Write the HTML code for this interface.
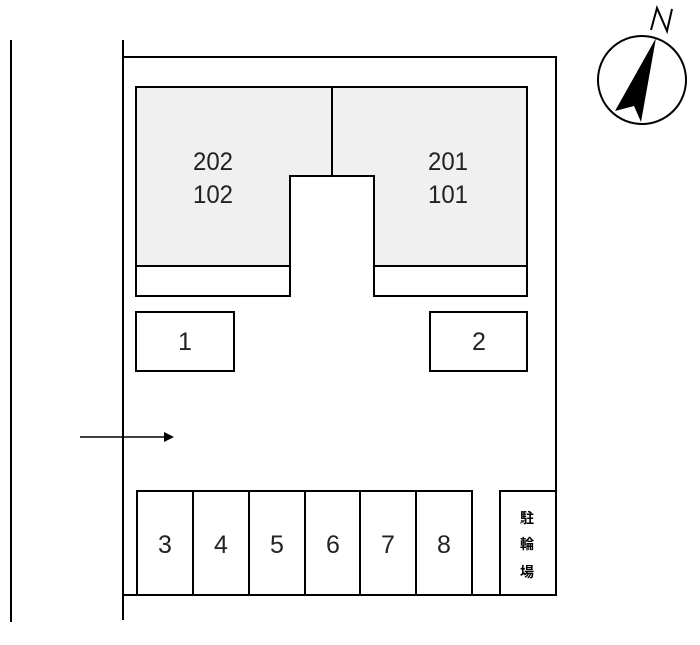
<!DOCTYPE html>
<html><head><style>body{margin:0;background:#fff}</style></head><body>
<svg width="700" height="640" xmlns="http://www.w3.org/2000/svg" font-family="Liberation Sans, sans-serif">
<g stroke="#000" stroke-width="2" fill="none">
<line x1="11" y1="40" x2="11" y2="622"/>
<line x1="123" y1="40" x2="123" y2="620"/>
<polyline points="123,57 556,57 556,595 123,595"/>
<path d="M136,87 H527 V266 H374 V176 H290 V266 H136 Z" fill="#f0f0f0"/>
<line x1="332" y1="87" x2="332" y2="176"/>
<path d="M136,266 V296 H290 V266 M374,266 V296 H527 V266"/>
<rect x="136" y="312" width="98" height="59"/>
<rect x="430" y="312" width="97" height="59"/>
<polyline points="137,595 137,491 472,491 472,595"/>
<line x1="193" y1="491" x2="193" y2="595"/>
<line x1="249" y1="491" x2="249" y2="595"/>
<line x1="305" y1="491" x2="305" y2="595"/>
<line x1="360" y1="491" x2="360" y2="595"/>
<line x1="416" y1="491" x2="416" y2="595"/>
<polyline points="500,595 500,491 556,491"/>
<line x1="80" y1="437" x2="170" y2="437" stroke-width="1.5"/>
<circle cx="642" cy="80" r="44"/>
<polyline points="651,30 657,8 667,31 672,9" stroke-width="2"/>
</g>
<polygon points="164,432 174,437 164,442" fill="#000"/>
<polygon points="656,38 641,122 634,106 615,111" fill="#000"/>
<g font-size="25" text-anchor="middle" fill="#222">
<text x="213" y="170" textLength="40" lengthAdjust="spacingAndGlyphs">202</text><text x="213" y="203" textLength="40" lengthAdjust="spacingAndGlyphs">102</text>
<text x="448" y="170" textLength="40" lengthAdjust="spacingAndGlyphs">201</text><text x="448" y="203" textLength="40" lengthAdjust="spacingAndGlyphs">101</text>
<text x="185" y="350">1</text><text x="479" y="350">2</text>
<text x="165" y="553">3</text><text x="221" y="553">4</text><text x="277" y="553">5</text>
<text x="333" y="553">6</text><text x="388" y="553">7</text><text x="444" y="553">8</text>
</g>
<g font-size="14" font-weight="bold" text-anchor="middle" font-family="Liberation Sans, Noto Sans CJK JP, sans-serif">
<text x="527" y="523">駐</text><text x="527" y="549">輪</text><text x="527" y="577">場</text>
</g>
</svg>
</body></html>
